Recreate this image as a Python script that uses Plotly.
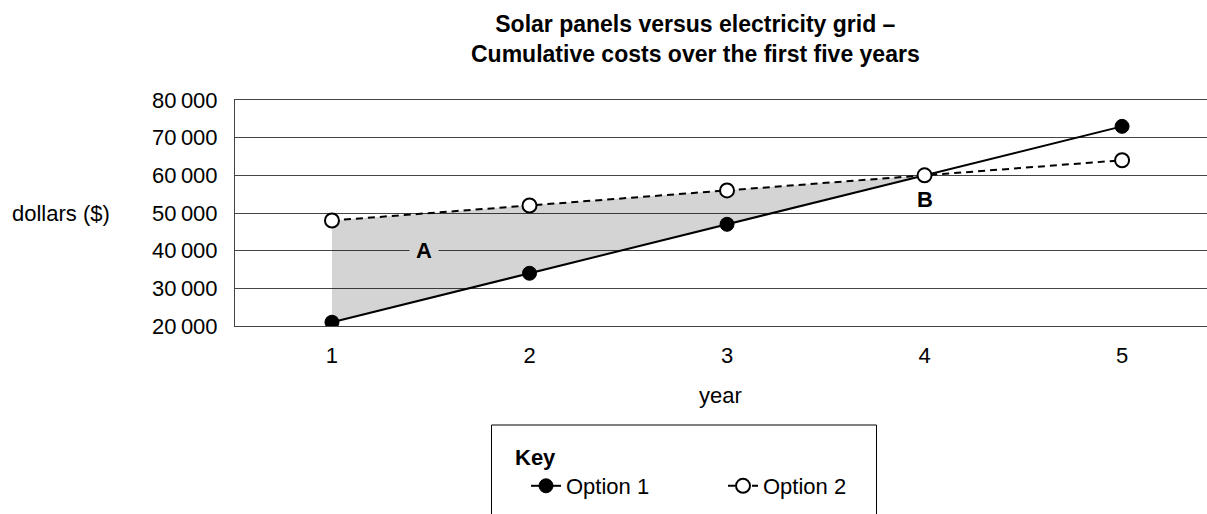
import plotly.graph_objects as go

years = [1, 2, 3, 4, 5]
option1 = [21000, 34000, 47000, 60000, 73000]
option2 = [48000, 52000, 56000, 60000, 64000]
y_ticks = [20000, 30000, 40000, 50000, 60000, 70000, 80000]
y_ticktext = ["20\u2009000", "30\u2009000", "40\u2009000", "50\u2009000",
              "60\u2009000", "70\u2009000", "80\u2009000"]
label_a = (1.466, 40000)
label_b = (4, 53500)
shade_upto = 4  # shaded region between the two lines, years 1..4

FONT = "Liberation Sans, Arial, sans-serif"

# polygon between option 2 (top) and option 1 (bottom) for years 1..shade_upto
n = years.index(shade_upto) + 1
poly_x = years[:n] + years[:n][::-1]
poly_y = option2[:n] + option1[:n][::-1]

fig = go.Figure()
fig.add_trace(go.Scatter(
    x=poly_x, y=poly_y, fill="toself", fillcolor="rgba(0,0,0,0.17)",
    line=dict(width=0), mode="lines", showlegend=False, hoverinfo="skip"))
fig.add_trace(go.Scatter(
    x=years, y=option1, name="Option 1", mode="lines+markers",
    line=dict(color="black", width=2),
    marker=dict(symbol="circle", size=14, color="black",
                line=dict(color="black", width=1))))
fig.add_trace(go.Scatter(
    x=years, y=option2, name="Option 2", mode="lines+markers",
    line=dict(color="black", width=2, dash="7px,5px"),
    marker=dict(symbol="circle", size=14, color="white",
                line=dict(color="black", width=2))))

fig.add_annotation(x=label_a[0], y=label_a[1], text="<b>A</b>", showarrow=False,
                   font=dict(family=FONT, size=22, color="black"),
                   bgcolor="#d4d4d4", borderpad=6)
fig.add_annotation(x=label_b[0], y=label_b[1], text="<b>B</b>", showarrow=False,
                   font=dict(family=FONT, size=22, color="black"))
fig.add_annotation(xref="paper", yref="paper", x=(10 - 235) / 972, y=0.5,
                   xanchor="left", yanchor="middle", text="dollars ($)",
                   showarrow=False, font=dict(family=FONT, size=22, color="black"))
fig.add_annotation(xref="paper", yref="paper", x=0.499, y=(326 - 395) / 226,
                   xanchor="center", yanchor="middle", text="year",
                   showarrow=False, font=dict(family=FONT, size=22, color="black"))
# title
fig.add_annotation(xref="paper", yref="paper", x=(695 - 235) / 972, y=(326 - 9) / 226,
                   xanchor="center", yanchor="top", align="center",
                   text="<b>Solar panels versus electricity grid –<br>"
                        "Cumulative costs over the first five years</b>",
                   showarrow=False, font=dict(family=FONT, size=23, color="black"))
# key title
fig.add_annotation(xref="paper", yref="paper", x=(513 - 235) / 972, y=(326 - 457) / 226,
                   xanchor="left", yanchor="middle", text="<b>Key</b>",
                   showarrow=False, font=dict(family=FONT, size=22, color="black"))

# key box
fig.add_shape(type="rect", xref="paper", yref="paper",
              x0=(491.5 - 235) / 972, x1=(876.5 - 235) / 972,
              y0=(326 - 425) / 226, y1=-1.2,
              line=dict(color="black", width=1), fillcolor="rgba(0,0,0,0)")

fig.update_layout(
    width=1207, height=514,
    margin=dict(l=235, r=0, t=100, b=188),
    paper_bgcolor="white", plot_bgcolor="white",
    font=dict(family=FONT, size=22, color="black"),
    showlegend=True,
    legend=dict(orientation="h", x=(526 - 235) / 972, xanchor="left",
                y=(326 - 465) / 226, yanchor="top",
                font=dict(family=FONT, size=22, color="black"),
                entrywidth=152, entrywidthmode="pixels",
                bgcolor="rgba(0,0,0,0)", borderwidth=0),
    xaxis=dict(range=[0.509, 5.43], tickvals=years, ticktext=[str(v) for v in years],
               showgrid=False, zeroline=False, showline=True, mirror=True,
               linecolor="#444", linewidth=1, ticks="", ticklabelstandoff=10,
               tickfont=dict(family=FONT, size=22, color="black")),
    yaxis=dict(range=[20000, 80000], tickvals=y_ticks, ticktext=y_ticktext,
               showgrid=True, gridcolor="#444", gridwidth=1, zeroline=False,
               showline=True, linecolor="#444", linewidth=1, ticks="",
               ticklabelstandoff=12,
               tickfont=dict(family=FONT, size=22, color="black")),
)

fig.write_html("out.html",
               config={"displayModeBar": False},
               post_script="document.body.style.margin='0';"
                           "document.body.style.overflow='hidden';")
